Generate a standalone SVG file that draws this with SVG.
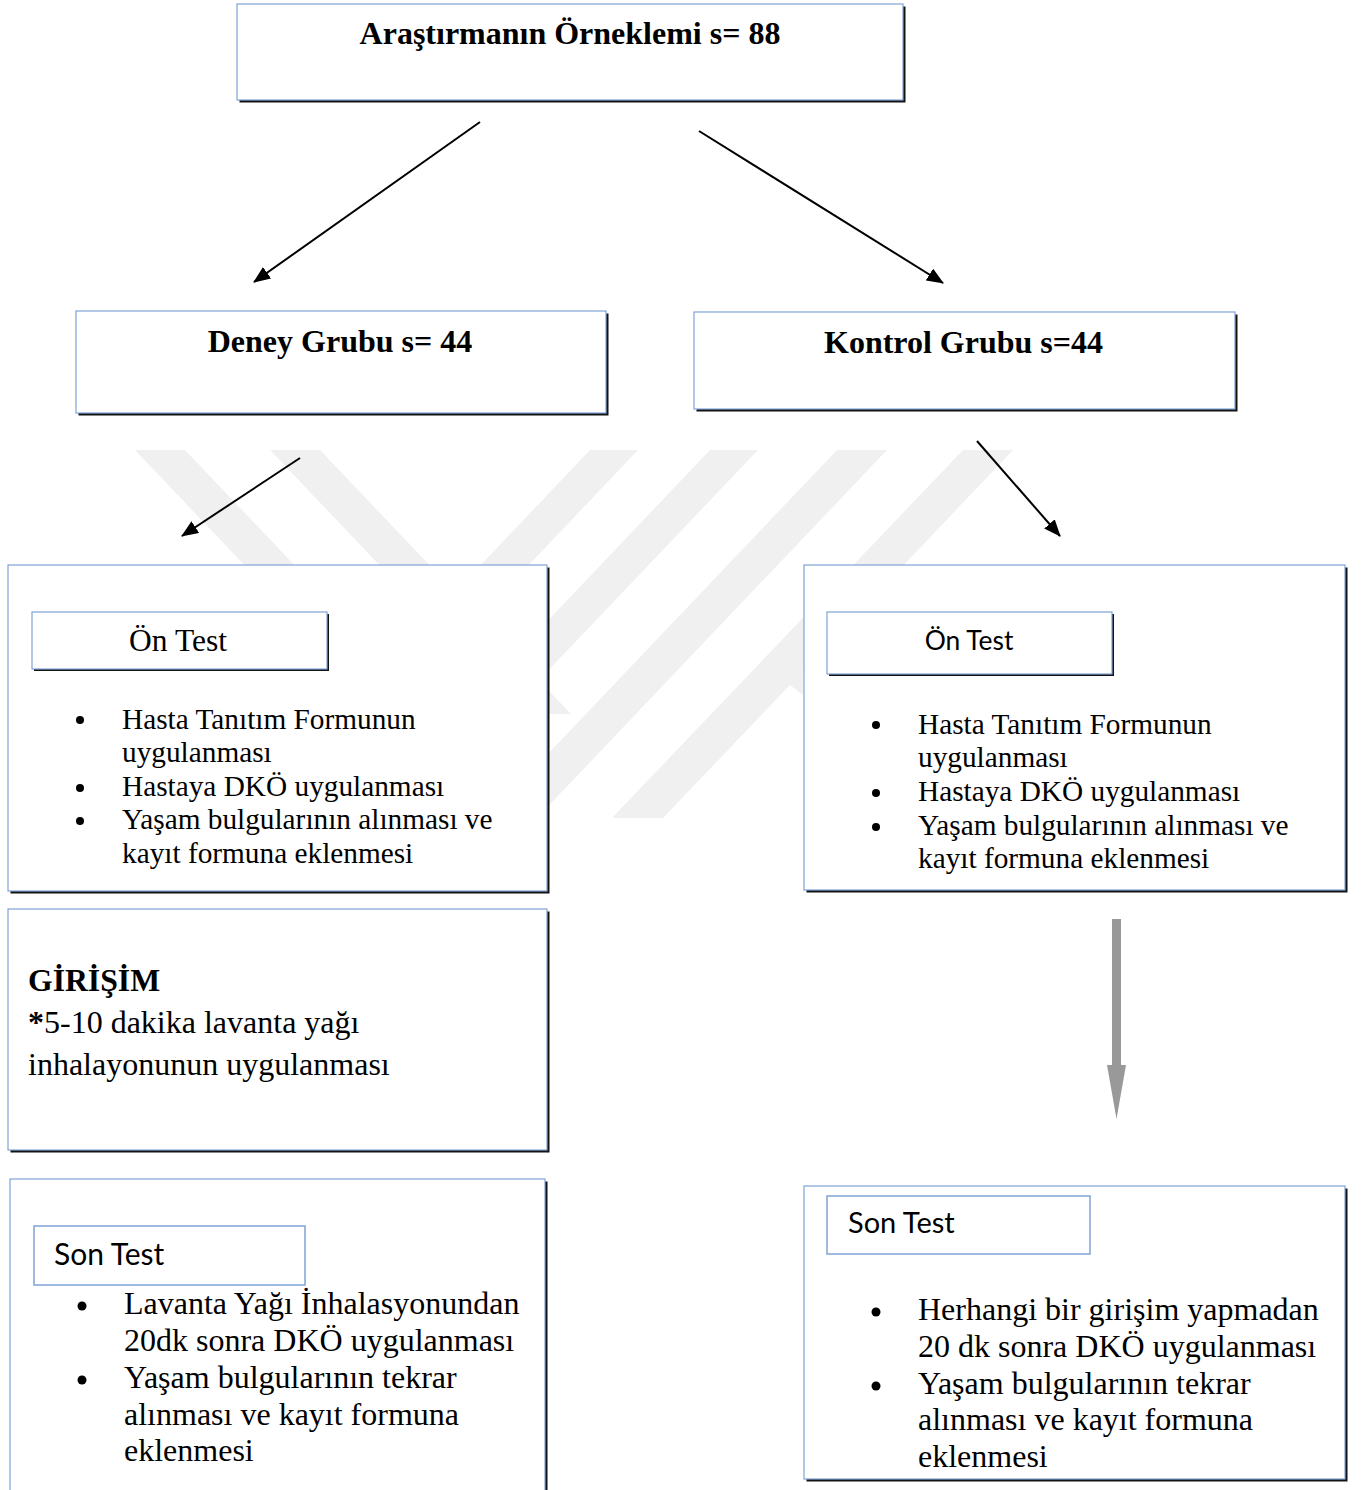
<svg xmlns="http://www.w3.org/2000/svg" width="1363" height="1490" viewBox="0 0 1363 1490">
<style>
.bg{fill:#ffffff}
.wm{fill:#f0f0f0}
.shadow{fill:#121212}
.box{fill:#ffffff;stroke:#7fa3d6;stroke-width:1.2}
.sbox{fill:#ffffff;stroke:#7fa3d6;stroke-width:1.5}
.title{font-family:"Liberation Serif","Times New Roman",serif;font-weight:bold;font-size:32px;fill:#000}
.serif{font-family:"Liberation Serif","Times New Roman",serif;fill:#000}
.sans{font-family:Lato,"Open Sans",sans-serif;fill:#000}
.conn{stroke:#000;stroke-width:2;fill:none}
.dot{fill:#000}
</style>
<defs>
<marker id="ah" markerWidth="18" markerHeight="14" refX="16" refY="7" orient="auto" markerUnits="userSpaceOnUse">
<path d="M0,0 L17,7 L0,14 Z" fill="#000"/>
</marker>
</defs>
<rect class="bg" x="0" y="0" width="1363" height="1490"/>
<g id="watermark">
<polygon class="wm" points="135,450 185,450 436,714 386,714"/>
<polygon class="wm" points="270,450 320,450 571,714 521,714"/>
<polygon class="wm" points="590,450 638,450 300,806 252,806"/>
<polygon class="wm" points="710,450 758,450 408,818 360,818"/>
<polygon class="wm" points="837,450 887,450 537,818 487,818"/>
<polygon class="wm" points="963,450 1013,450 803,671 803,695 790,685 663,818 612,818"/>
</g>
<g id="connectors">
<line class="conn" x1="480" y1="122" x2="254" y2="282" marker-end="url(#ah)"/>
<line class="conn" x1="699" y1="131" x2="943" y2="283" marker-end="url(#ah)"/>
<line class="conn" x1="300" y1="458" x2="182" y2="536" marker-end="url(#ah)"/>
<line class="conn" x1="977" y1="441" x2="1060" y2="536" marker-end="url(#ah)"/>
<g id="gray-arrow">
<rect x="1112" y="919" width="9" height="147" fill="#999999"/>
<polygon points="1107,1065 1126,1065 1116.5,1119" fill="#999999"/>
</g>
</g>
<g id="node-sample">
<rect class="shadow" x="239.5" y="6.5" width="666" height="96"/>
<rect class="box" x="237" y="4" width="666" height="96"/>
<text class="title" x="570" y="44" text-anchor="middle">Araştırmanın Örneklemi s= 88</text>
</g>
<g id="node-deney">
<rect class="shadow" x="78.5" y="313.5" width="530" height="102"/>
<rect class="box" x="76" y="311" width="530" height="102"/>
<text class="title" x="340" y="352" text-anchor="middle">Deney Grubu s= 44</text>
</g>
<g id="node-kontrol">
<rect class="shadow" x="696.5" y="314.5" width="541" height="97"/>
<rect class="box" x="694" y="312" width="541" height="97"/>
<text class="title" x="963.5" y="353" text-anchor="middle">Kontrol Grubu s=44</text>
</g>
<g id="node-deney-ontest">
<rect class="shadow" x="10.5" y="567.5" width="539" height="326"/>
<rect class="box" x="8" y="565" width="539" height="326"/>
<rect class="shadow" x="34" y="614" width="295" height="57"/>
<rect class="box" x="32" y="612" width="295" height="57"/>
<text class="serif" x="178" y="651" font-size="31.5" text-anchor="middle">Ön Test</text>
<circle class="dot" cx="80" cy="720" r="4"/>
<circle class="dot" cx="80" cy="788" r="4"/>
<circle class="dot" cx="80" cy="821" r="4"/>
<text class="serif" font-size="29.3">
<tspan x="122" y="729">Hasta Tanıtım Formunun</tspan>
<tspan x="122" y="762">uygulanması</tspan>
<tspan x="122" y="796">Hastaya DKÖ uygulanması</tspan>
<tspan x="122" y="829">Yaşam bulgularının alınması ve</tspan>
<tspan x="122" y="863">kayıt formuna eklenmesi</tspan>
</text>
</g>
<g id="node-kontrol-ontest">
<rect class="shadow" x="806.5" y="567.5" width="541" height="325"/>
<rect class="box" x="804" y="565" width="541" height="325"/>
<rect class="shadow" x="829" y="614" width="285" height="62"/>
<rect class="box" x="827" y="612" width="285" height="62"/>
<text class="sans" x="969" y="650" font-size="26.4" text-anchor="middle">Ön Test</text>
<circle class="dot" cx="876" cy="725" r="4"/>
<circle class="dot" cx="876" cy="793" r="4"/>
<circle class="dot" cx="876" cy="827" r="4"/>
<text class="serif" font-size="29.3">
<tspan x="918" y="734">Hasta Tanıtım Formunun</tspan>
<tspan x="918" y="767">uygulanması</tspan>
<tspan x="918" y="801">Hastaya DKÖ uygulanması</tspan>
<tspan x="918" y="835">Yaşam bulgularının alınması ve</tspan>
<tspan x="918" y="868">kayıt formuna eklenmesi</tspan>
</text>
</g>
<g id="node-girisim">
<rect class="shadow" x="10.5" y="911.5" width="539" height="241"/>
<rect class="box" x="8" y="909" width="539" height="241"/>
<text class="serif" x="28" y="991" font-size="31.7" font-weight="bold">GİRİŞİM</text>
<text class="serif" font-size="32">
<tspan x="28" y="1033"><tspan font-weight="bold">*</tspan>5-10 dakika lavanta yağı</tspan>
<tspan x="28" y="1075">inhalayonunun uygulanması</tspan>
</text>
</g>
<g id="node-deney-sontest">
<rect class="shadow" x="12.5" y="1181.5" width="535" height="320"/>
<rect class="box" x="10" y="1179" width="535" height="320"/>
<rect class="sbox" x="34" y="1226" width="271" height="59"/>
<text class="sans" x="54" y="1265" font-size="30">Son Test</text>
<circle class="dot" cx="82" cy="1306" r="4.5"/>
<circle class="dot" cx="82" cy="1380" r="4.5"/>
<text class="serif" font-size="32">
<tspan x="124" y="1314">Lavanta Yağı İnhalasyonundan</tspan>
<tspan x="124" y="1351">20dk sonra DKÖ uygulanması</tspan>
<tspan x="124" y="1388">Yaşam bulgularının tekrar</tspan>
<tspan x="124" y="1425">alınması ve kayıt formuna</tspan>
<tspan x="124" y="1461">eklenmesi</tspan>
</text>
</g>
<g id="node-kontrol-sontest">
<rect class="shadow" x="806.5" y="1188.5" width="541" height="293"/>
<rect class="box" x="804" y="1186" width="541" height="293"/>
<rect class="sbox" x="827" y="1196" width="263" height="58"/>
<text class="sans" x="848" y="1233" font-size="29">Son Test</text>
<circle class="dot" cx="876" cy="1312" r="4.5"/>
<circle class="dot" cx="876" cy="1386" r="4.5"/>
<text class="serif" font-size="32">
<tspan x="918" y="1320">Herhangi bir girişim yapmadan</tspan>
<tspan x="918" y="1357">20 dk sonra DKÖ uygulanması</tspan>
<tspan x="918" y="1394">Yaşam bulgularının tekrar</tspan>
<tspan x="918" y="1430">alınması ve kayıt formuna</tspan>
<tspan x="918" y="1467">eklenmesi</tspan>
</text>
</g>
</svg>
